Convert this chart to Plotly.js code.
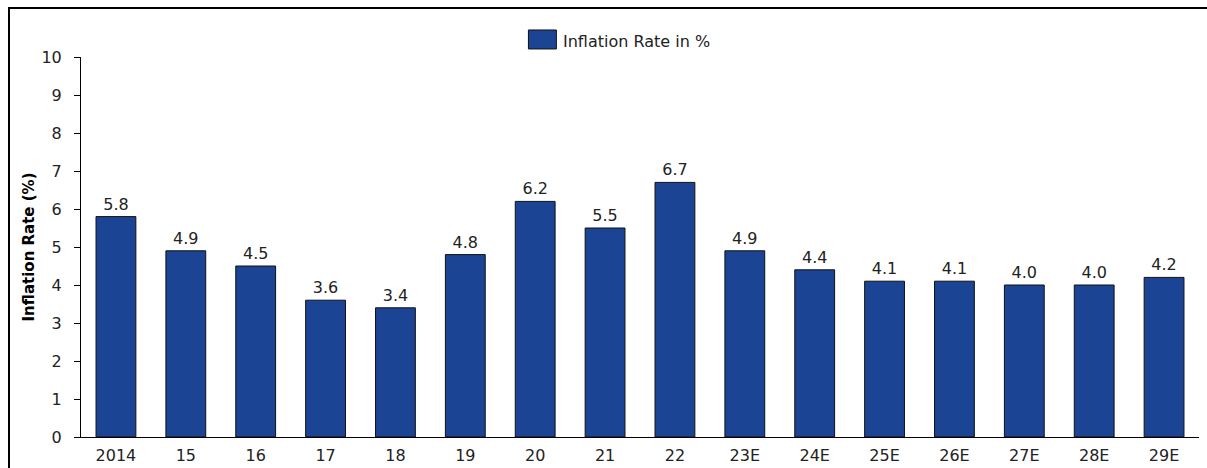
<!DOCTYPE html>
<html>
<head>
<meta charset="utf-8">
<script src="https://cdn.plot.ly/plotly-3.0.1.min.js"></script>
<style>
html,body{margin:0;padding:0;background:#fff;}
#wrap{position:relative;width:1207px;height:468px;overflow:hidden;}
#chart{width:1207px;height:468px;}
#frame{position:absolute;left:8px;top:7px;width:1300px;height:600px;border-left:2px solid #000;border-top:2px solid #000;box-sizing:border-box;pointer-events:none;}
</style>
</head>
<body>
<div id="wrap"><div id="chart"></div><div id="frame"></div></div>
<script>
const categories = ["2014","15","16","17","18","19","20","21","22","23E","24E","25E","26E","27E","28E","29E"];
const inflationRate = [5.8,4.9,4.5,3.6,3.4,4.8,6.2,5.5,6.7,4.9,4.4,4.1,4.1,4.0,4.0,4.2];
const yTicks = [0,1,2,3,4,5,6,7,8,9,10];
const seriesName = "Inflation Rate in %";
const yTitle = "Inflation Rate (%)";

const font = "DejaVu Sans, Liberation Sans, Arial, sans-serif";
const barColor = "#1B4495";
const trace = {
  type: "bar",
  x: categories,
  y: inflationRate,
  name: seriesName,
  showlegend: false,
  marker: {color: barColor, line: {color: "#111", width: 1}},
  text: inflationRate.map(v => v.toFixed(1)),
  textposition: "outside",
  cliponaxis: false,
  textfont: {family: font, size: 16, color: "#222"},
  width: 0.57,
  hoverinfo: "skip"
};
const layout = {
  width: 1207, height: 468,
  margin: {l: 81, r: 8, t: 57, b: 31, pad: 0, autoexpand: false},
  paper_bgcolor: "#fff", plot_bgcolor: "#fff",
  font: {family: font, size: 16, color: "#222"},
  showlegend: false,
  xaxis: {
    type: "category",
    showline: true, linecolor: "#000", linewidth: 1,
    ticks: "", showgrid: false, zeroline: false,
    ticklabelstandoff: 4,
    tickfont: {family: font, size: 16, color: "#222"},
    automargin: false
  },
  yaxis: {
    range: [0, 10], tickvals: yTicks,
    showline: true, linecolor: "#000", linewidth: 1,
    ticks: "outside", ticklen: 6, tickcolor: "#000", tickwidth: 1,
    ticklabelstandoff: 9,
    showgrid: false, zeroline: false,
    tickfont: {family: font, size: 16, color: "#222"},
    title: {text: yTitle, font: {family: font, size: 15, color: "#000", weight: "bold"}, standoff: 3},
    automargin: false
  },
  shapes: [{
    type: "rect", xref: "paper", yref: "paper",
    x0: 0.4002, x1: 0.4252, y0: 1.0211, y1: 1.0711,
    fillcolor: barColor, line: {color: "#111", width: 1}
  }],
  annotations: [{
    xref: "paper", yref: "paper", x: 0.4297, y: 1.0408,
    xanchor: "left", yanchor: "middle", showarrow: false,
    text: seriesName, font: {family: font, size: 16, color: "#222"}
  }]
};
Plotly.newPlot("chart", [trace], layout, {staticPlot: true, displayModeBar: false});
</script>
</body>
</html>
